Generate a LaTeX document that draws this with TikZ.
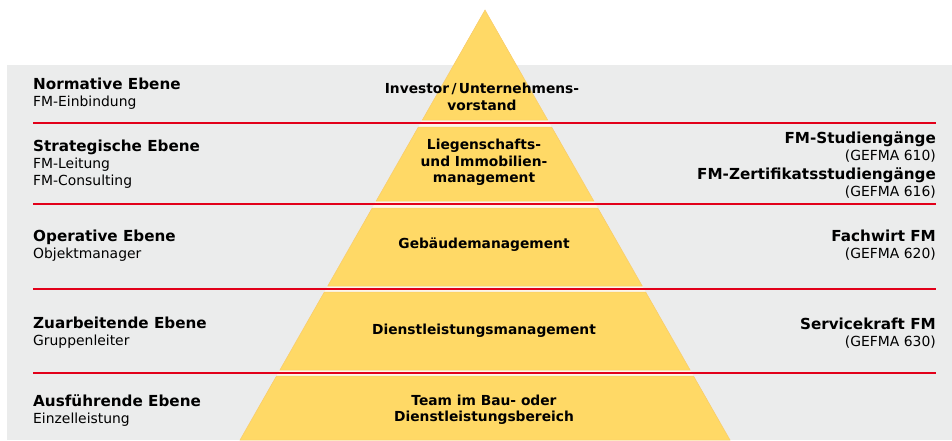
\documentclass[tikz,border=0pt]{standalone}
\usepackage{fontspec}
\setmainfont{DejaVu Sans}
\usepackage{tikz}

\definecolor{bggray}{HTML}{EBECEC}
\definecolor{pyryellow}{HTML}{FFD966}
\definecolor{pyredge}{HTML}{F8CB6A}
\definecolor{gapcream}{HTML}{FBF6EC}
\definecolor{linered}{HTML}{E2001A}

\newcommand\hd[1]{{\fontsize{15.2}{17}\selectfont\bfseries #1}}

\begin{document}
\begin{tikzpicture}[x=1pt, y=-1pt,
	lvl/.style = {anchor=west, align=left, inner sep=0pt,
		font=\fontsize{13.9}{17}\selectfont},
	pyr/.style = {align=center, inner sep=0pt,
		font=\fontsize{13.8}{16.5}\selectfont\bfseries},
	qual/.style = {anchor=east, align=right, inner sep=0pt,
		font=\fontsize{13.9}{17}\selectfont},
	seg/.style = {fill=pyryellow, draw=pyredge, line width=0.5pt},
	sep/.style = {draw=linered, line width=1.8pt}]
	\useasboundingbox (0,0) rectangle (952,440);
	\fill[bggray] (7,65) rectangle (952,440);
	
	% pyramid
	\coordinate (apex) at (485,10);
	\fill[gapcream] (apex) -- (240,440) -- (730,440) -- cycle;
	\foreach \t/\b in {10/120, 127/201, 208/286, 292/370, 376/440}{
		\pgfmathsetmacro\wt{0.56977*(\t-10)}
		\pgfmathsetmacro\wb{0.56977*(\b-10)}
		\filldraw[seg] (485-\wt,\t) -- (485+\wt,\t) -- (485+\wb,\b) -- (485-\wb,\b) -- cycle;
	}
	\foreach \y in {123, 204, 289, 373}
		\draw[sep] (33,\y) -- (936,\y);
	
	% levels
	\node[lvl] (normativ) at (33,93.5) {\hd{Normative Ebene}\\FM-Einbindung};
	\node[lvl] (strategisch) at (33,164) {\hd{Strategische Ebene}\\FM-Leitung\\FM-Consulting};
	\node[lvl] (operativ) at (33,245.5) {\hd{Operative Ebene}\\Objektmanager};
	\node[lvl] (zuarbeitend) at (33,333) {\hd{Zuarbeitende Ebene}\\Gruppenleiter};
	\node[lvl] (ausfuehrend) at (33,411) {\hd{Ausführende Ebene}\\Einzelleistung};
	
	% pyramid labels
	\node[pyr] (investor) at (482,97) {Investor\,/\,Unternehmens-\\vorstand};
	\node[pyr] (liegenschaft) at (484,162.5) {Liegenschafts-\\und Immobilien-\\management};
	\node[pyr] (gebaeude) at (484,244.5) {Gebäudemanagement};
	\node[pyr] (dienstleistung) at (484,330.5) {Dienstleistungsmanagement};
	\node[pyr] (team) at (484,409.5) {Team im Bau- oder\\Dienstleistungsbereich};
	
	% qualifications
	\node[qual] (studium) at (936,165.5) {\hd{FM-Studiengänge}\\(GEFMA 610)\\[2pt]\hd{FM-Zertifikatsstudiengänge}\\(GEFMA 616)};
	\node[qual] (fachwirt) at (936,245.5) {\hd{Fachwirt FM}\\(GEFMA 620)};
	\node[qual] (servicekraft) at (936,333) {\hd{Servicekraft FM}\\(GEFMA 630)};
\end{tikzpicture}
\end{document}
